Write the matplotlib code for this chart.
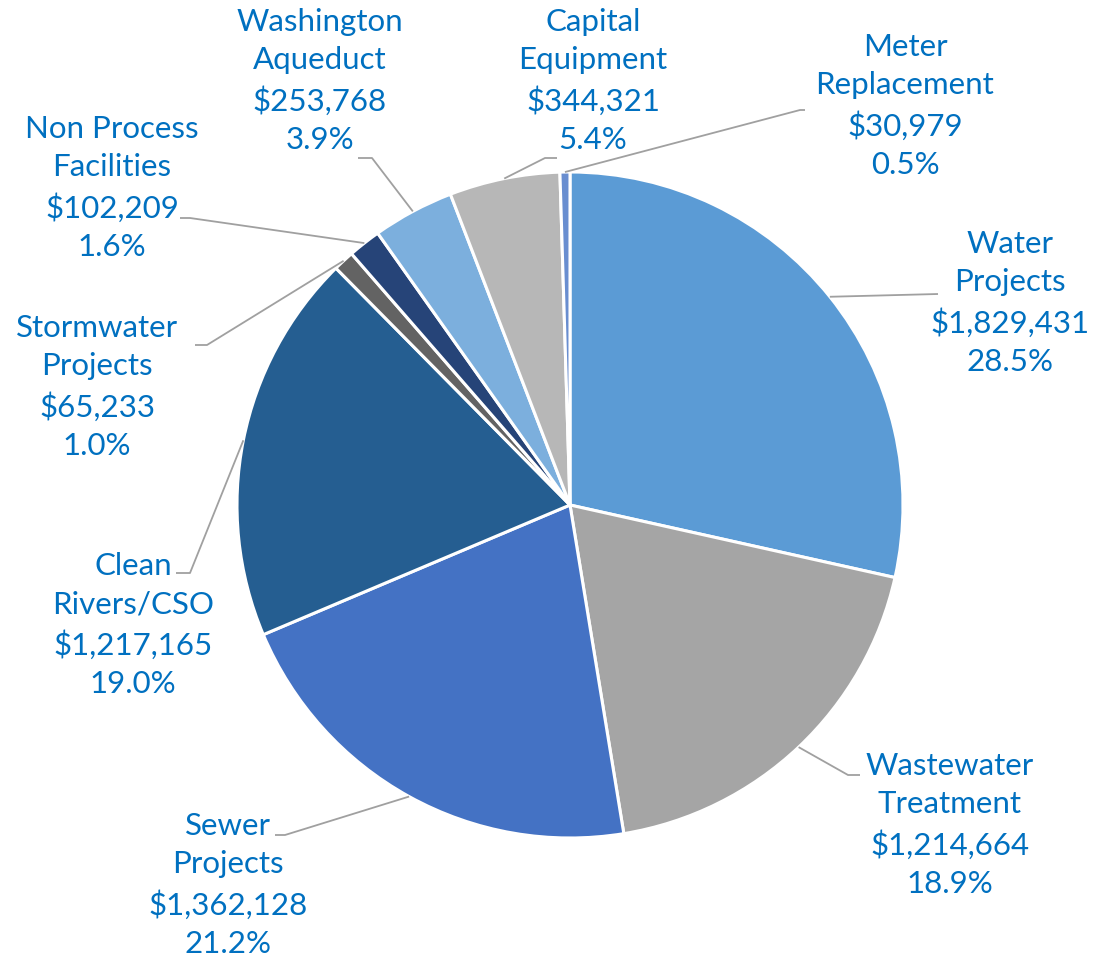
import matplotlib.pyplot as plt
import numpy as np

# budget by program area, clockwise from 12 o'clock
categories = ["Water\nProjects", "Wastewater\nTreatment", "Sewer\nProjects",
              "Clean\nRivers/CSO", "Stormwater\nProjects", "Non Process\nFacilities",
              "Washington\nAqueduct", "Capital\nEquipment", "Meter\nReplacement"]
amounts = [1829431, 1214664, 1362128, 1217165, 65233, 102209, 253768, 344321, 30979]
shares = [28.5, 18.9, 21.2, 19.0, 1.0, 1.6, 3.9, 5.4, 0.5]
colors = ["#5B9BD5", "#A5A5A5", "#4472C4", "#255E91", "#636363",
          "#264478", "#7CAFDD", "#B7B7B7", "#698ED0"]

W, H = 1102, 958
# label layout in image pixels: text centre, then leader elbow / end points
label_pos = [(1010, 303), (950, 825), (228, 885), (133, 625), (97, 387),
             (112, 188), (320, 81), (593, 81), (905, 106)]
leader_pts = [[(938, 294)],
              [(848, 775), (860, 775)],
              [(285, 835), (275, 835)],
              [(190, 573), (176, 573)],
              [(207, 345), (195, 345)],
              [(190, 218), (180, 218)],
              [(372, 158), (358, 158)],
              [(545, 158), (557, 158)],
              [(800, 110), (805, 110)]]


def img(x, y):
    return x, H - y


cx, cy = img(570, 505)
R = 333

fig = plt.figure(figsize=(W / 100, H / 100), dpi=100)
ax = fig.add_axes([0, 0, 1, 1])
wedges, _ = ax.pie(amounts, colors=colors, startangle=90, counterclock=False,
                   center=(cx, cy), radius=R,
                   wedgeprops=dict(edgecolor="white", linewidth=2.2))
ax.set_xlim(0, W)
ax.set_ylim(0, H)
ax.set_aspect("equal")
ax.axis("off")

for w, cat, amt, pct, pos, pts in zip(wedges, categories, amounts, shares,
                                      label_pos, leader_pts):
    mid = np.deg2rad((w.theta1 + w.theta2) / 2)
    xs = [cx + R * np.cos(mid)] + [img(*p)[0] for p in pts]
    ys = [cy + R * np.sin(mid)] + [img(*p)[1] for p in pts]
    ax.plot(xs, ys, color="#A0A0A0", lw=1.3, solid_capstyle="butt")
    txt = f"{cat}\n${amt:,}\n{pct:.1f}%"
    tx, ty = img(*pos)
    ax.text(tx, ty, txt, ha="center", va="center", multialignment="center",
            fontsize=22.5, family="Lato", color="#0070C0", linespacing=1.46)

fig.savefig("out.png", dpi=100)
